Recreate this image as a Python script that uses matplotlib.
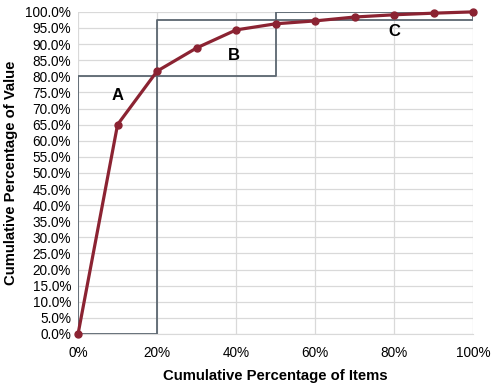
import matplotlib.pyplot as plt
from matplotlib.ticker import PercentFormatter

plt.rcParams['font.family'] = ['Liberation Sans', 'DejaVu Sans']

# cumulative share of items vs cumulative share of value
items_pct = [0, 10, 20, 30, 40, 50, 60, 70, 80, 90, 100]
value_pct = [0, 65.0, 81.6, 88.8, 94.4, 96.3, 97.2, 98.4, 99.1, 99.6, 100]

# ABC class boxes
classes = ['A', 'B', 'C']
box_x = [(0, 20), (20, 50), (50, 100)]
box_y = [(0, 80), (80, 97.5), (97.5, 100)]
label_pos = [(10, 74), (39.5, 86.5), (80, 94)]

fig = plt.figure(figsize=(4.94, 3.83), dpi=100)
ax = fig.add_axes([0.158, 0.128, 0.8, 0.841])

for (x0, x1), (y0, y1), name, (lx, ly) in zip(box_x, box_y, classes, label_pos):
    ax.plot([x0, x1, x1, x0, x0], [y0, y0, y1, y1, y0], color='#5b6670', lw=1.3, zorder=3)
    ax.text(lx, ly, name, fontsize=12, fontweight='bold', ha='center', va='center', zorder=5)

ax.plot(items_pct, value_pct, color='#8b2332', lw=2.3, marker='o', ms=5,
        clip_on=False, zorder=4)

ax.set_xlim(0, 100)
ax.set_ylim(0, 100)
ax.set_xticks(range(0, 101, 20))
ax.set_yticks([i * 5 for i in range(21)])
ax.xaxis.set_major_formatter(PercentFormatter(decimals=0))
ax.yaxis.set_major_formatter(PercentFormatter(decimals=1))
ax.tick_params(labelsize=9.8, length=0, colors='#000000')
ax.tick_params(axis='x', pad=9)
ax.tick_params(axis='y', pad=5)
ax.grid(True, color='#d9d9d9', lw=0.9)
ax.set_axisbelow(True)
for s in ['top', 'right', 'left']:
    ax.spines[s].set_visible(False)
ax.spines['bottom'].set_color('#d9d9d9')

ax.set_xlabel('Cumulative Percentage of Items', fontsize=10.7, fontweight='bold', labelpad=6)
ax.set_ylabel('Cumulative Percentage of Value', fontsize=10.7, fontweight='bold', labelpad=5)

fig.savefig('out.png', dpi=100)
